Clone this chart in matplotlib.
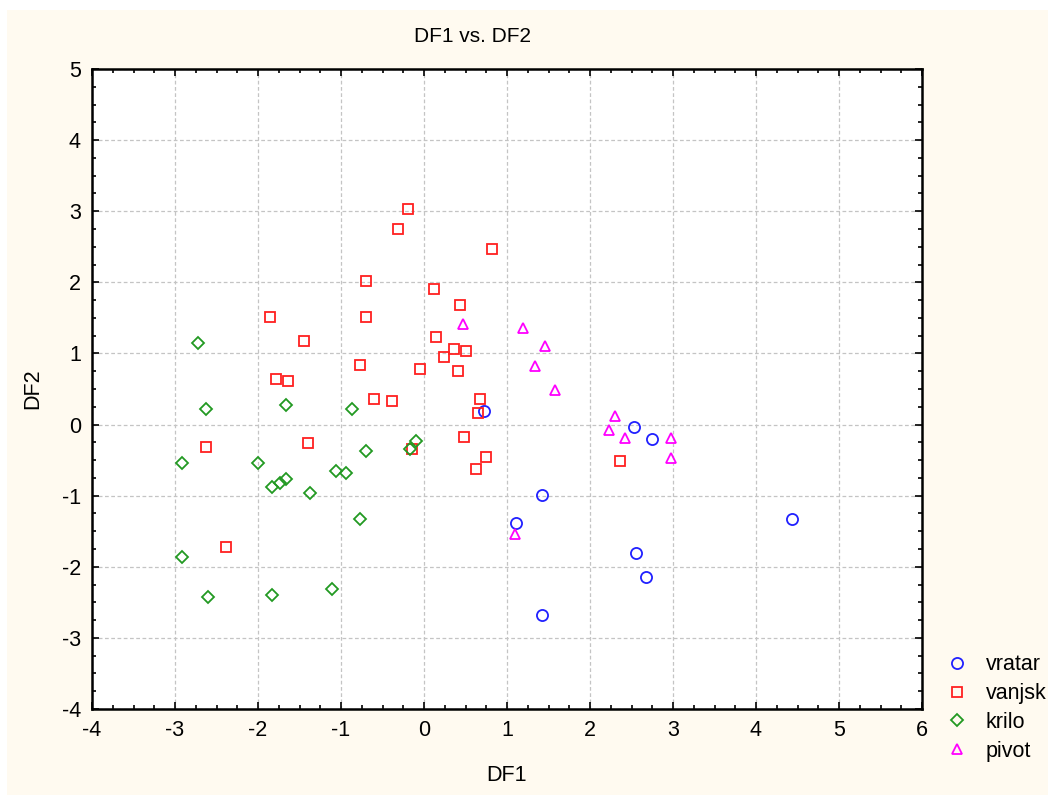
import numpy as np
import matplotlib
matplotlib.use("Agg")
import matplotlib.pyplot as plt
from matplotlib.patches import Rectangle
from matplotlib.ticker import MultipleLocator

plt.rcParams['font.family'] = ['Liberation Sans', 'DejaVu Sans']
plt.rcParams['axes.unicode_minus'] = False

# Group scores on the first two discriminant functions
vratar_x = [0.72, 1.42, 1.11, 1.42, 2.53, 2.75, 2.55, 2.68, 4.43]
vratar_y = [0.19, -0.99, -1.38, -2.68, -0.03, -0.20, -1.81, -2.14, -1.33]

vanjsk_x = [-0.19, -0.31, 0.82, -0.70, 0.12, 0.43, -0.70, 0.15, 0.36, 0.51,
            0.24, -0.77, -0.05, 0.41, -0.60, -0.39, 0.68, 0.65, 0.48, -0.15,
            0.75, 0.63, -1.86, -1.45, -1.78, -1.64, -2.63, -1.40, -2.39, 2.36]
vanjsk_y = [3.03, 2.75, 2.47, 2.02, 1.91, 1.68, 1.51, 1.23, 1.06, 1.04,
            0.95, 0.84, 0.78, 0.75, 0.36, 0.33, 0.36, 0.16, -0.17, -0.34,
            -0.46, -0.62, 1.51, 1.18, 0.64, 0.61, -0.32, -0.26, -1.72, -0.51]

krilo_x = [-2.72, -2.63, -1.66, -0.87, -0.10, -0.17, -0.70, -2.92, -2.00, -1.06,
           -0.94, -1.66, -1.74, -1.83, -1.37, -0.77, -2.92, -1.11, -1.83, -2.60]
krilo_y = [1.15, 0.22, 0.28, 0.22, -0.23, -0.34, -0.37, -0.54, -0.54, -0.65,
           -0.68, -0.77, -0.82, -0.88, -0.96, -1.33, -1.86, -2.31, -2.40, -2.43]

pivot_x = [0.47, 1.19, 1.46, 1.34, 1.58, 2.30, 2.23, 2.42, 2.98, 2.98, 1.10]
pivot_y = [1.42, 1.36, 1.11, 0.82, 0.49, 0.12, -0.08, -0.19, -0.19, -0.47, -1.54]

groups = ["vratar", "vanjsk", "krilo", "pivot"]

W, H = 1048, 795
fig = plt.figure(figsize=(W / 100, H / 100), dpi=100, facecolor="white")
fig.patches.append(Rectangle((7 / W, 0), 1 - 7 / W, 1 - 10 / H, transform=fig.transFigure,
                             facecolor="#fffaf0", edgecolor="none", zorder=-10))

ax = fig.add_axes([92 / W, 1 - 709 / H, (922 - 92) / W, (709 - 69) / H])
ax.set_facecolor("white")

styles = [
    ("o", "#2020ff", 8.0),
    ("s", "#ff2020", 7.5),
    ("D", "#229922", 6.0),
    ("^", "#ff00ff", 7.5),
]
data = [(vratar_x, vratar_y), (vanjsk_x, vanjsk_y), (krilo_x, krilo_y), (pivot_x, pivot_y)]
for name, (xs, ys), (mk, col, ms) in zip(groups, data, styles):
    ax.plot(xs, ys, linestyle="none", marker=mk, markersize=ms, markerfacecolor="none",
            markeredgecolor=col, markeredgewidth=1.3, label=name, zorder=3)

ax.set_xlim(-4, 6)
ax.set_ylim(-4, 5)
ax.xaxis.set_major_locator(MultipleLocator(1))
ax.yaxis.set_major_locator(MultipleLocator(1))
ax.xaxis.set_minor_locator(MultipleLocator(0.25))
ax.yaxis.set_minor_locator(MultipleLocator(0.25))
ax.tick_params(which="both", direction="in", top=True, right=True, width=1.2, colors="black")
ax.tick_params(which="major", length=5, labelsize=15.5, pad=8)
ax.tick_params(which="minor", length=3)
ax.grid(True, which="major", color="#c4c4c4", linestyle=(0, (3, 2)), linewidth=0.9)
ax.set_axisbelow(True)
for sp in ax.spines.values():
    sp.set_linewidth(1.8)
    sp.set_color("black")

ax.set_xlabel("DF1", fontsize=15.5, labelpad=17)
ax.set_ylabel("DF2", fontsize=15.5, labelpad=13)
fig.text(473 / W, 1 - 37 / H, "DF1 vs. DF2", ha="center", va="center", fontsize=15)

fig.legend(loc="center left", bbox_to_anchor=(946 / W, 1 - 708 / H), frameon=False,
           fontsize=15.5, handlelength=1.0, handletextpad=0.85, labelspacing=0.36,
           borderaxespad=0, borderpad=0)

fig.savefig("out.png", dpi=100, facecolor=fig.get_facecolor())
